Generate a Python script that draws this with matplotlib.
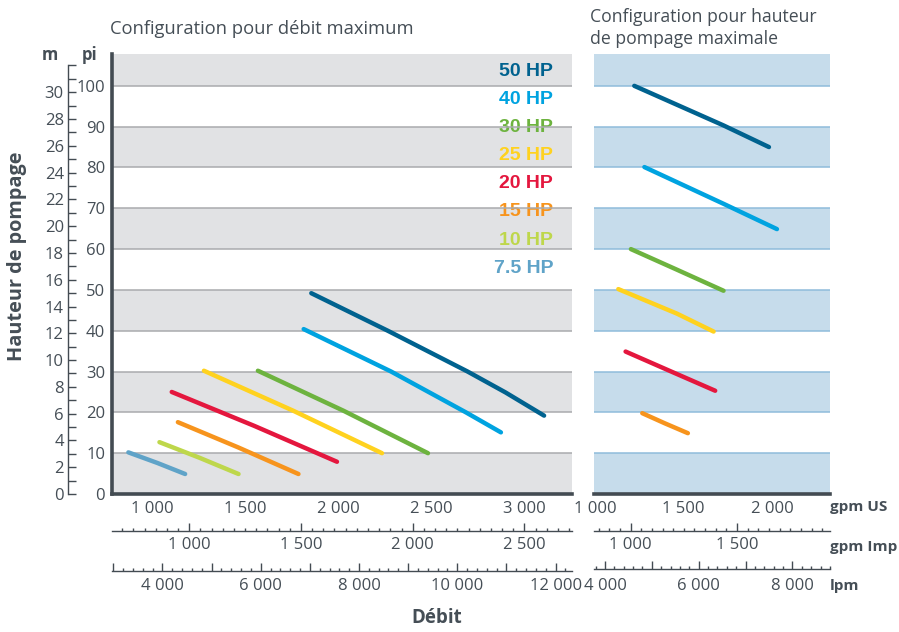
import matplotlib
matplotlib.use('Agg')
import matplotlib.pyplot as plt
from matplotlib.ticker import MultipleLocator, FixedLocator

plt.rcParams['font.family'] = ['Open Sans', 'DejaVu Sans']

# --- donnees (gpm US, pieds) ---
puissances = ['50 HP', '40 HP', '30 HP', '25 HP', '20 HP', '15 HP', '10 HP', '7.5 HP']
couleurs = ['#00628f', '#00a3e0', '#6db33f', '#ffd21f', '#e4173e', '#f7941d', '#bed74b', '#5fa3c8']

# configuration debit maximum
debit_max_x = [
    [1857, 2268, 2697, 2900, 3108],
    [1816, 2286, 2688, 2876],
    [1570, 2030, 2484],
    [1280, 1760, 2237],
    [1107, 1550, 1995],
    [1140, 1465, 1788],
    [1041, 1255, 1466],
    [874, 1030, 1179],
]
debit_max_y = [
    [49.2, 40.0, 30.0, 24.9, 19.2],
    [40.4, 30.0, 20.0, 15.1],
    [30.2, 20.4, 10.0],
    [30.2, 20.4, 10.0],
    [25.0, 16.7, 7.9],
    [17.6, 11.4, 4.9],
    [12.7, 8.9, 4.9],
    [10.2, 7.6, 4.9],
]

# configuration hauteur maximale (pas de 10 HP ni 7.5 HP)
hauteur_max_x = [
    [1222, 1725, 1981],
    [1279, 1725, 2026],
    [1203, 1460, 1725],
    [1132, 1462, 1669],
    [1173, 1425, 1678],
    [1267, 1395, 1524],
]
hauteur_max_y = [
    [100.0, 90.3, 85.0],
    [80.1, 71.1, 64.9],
    [60.0, 55.0, 49.8],
    [50.2, 44.2, 39.8],
    [34.9, 30.1, 25.3],
    [19.8, 17.3, 14.9],
]

gpm_us_gauche = [1000, 1500, 2000, 2500, 3000]
gpm_us_droite = [1000, 1500, 2000]
gpm_imp_gauche = [1000, 1500, 2000, 2500]
gpm_imp_droite = [1000, 1500]
lpm_ticks = [3000, 4000, 5000, 6000, 7000, 8000, 9000, 10000, 11000, 12000]
lpm_labels_gauche = [4000, 6000, 8000, 10000, 12000]
lpm_labels_droite = [4000, 6000, 8000]
pi_ticks = [0, 10, 20, 30, 40, 50, 60, 70, 80, 90, 100]
m_ticks = [0, 2, 4, 6, 8, 10, 12, 14, 16, 18, 20, 22, 24, 26, 28, 30]


def fmt(v):
    return f'{v:,}'.replace(',', ' ')


def us2imp(x):
    return x / 1.20095


def us2lpm(x):
    return x * 3.78541


def ft2m(y):
    return y * 0.3048


TXT = '#454e56'
SPINE = '#434b52'
FS = 12

fig = plt.figure(figsize=(8.99, 6.32), dpi=100)
W, H = 899, 632
bas = (H - 494) / H
haut = 440 / H
axL = fig.add_axes([112 / W, bas, 460 / W, haut])
axR = fig.add_axes([594 / W, bas, 236 / W, haut])

YMAX = 107.8
XL = (786, 3258)
XR = (995, 2325)
axL.set_xlim(*XL)
axR.set_xlim(*XR)

for ax, bande, ligne in [(axL, '#e1e2e4', '#a9abae'), (axR, '#c6dceb', '#8fbcdb')]:
    ax.set_ylim(0, YMAX)
    for y0 in range(0, 110, 20):
        ax.axhspan(y0, y0 + 10, color=bande, lw=0, zorder=0.5)
    for y0 in range(10, 110, 10):
        ax.axhline(y0, color=ligne, lw=1.1, zorder=2)
    for s in ['top', 'right']:
        ax.spines[s].set_visible(False)
    ax.spines['bottom'].set_linewidth(2.6)
    ax.spines['bottom'].set_color(SPINE)
    ax.spines['bottom'].set_zorder(5)
    ax.tick_params(axis='x', length=0, pad=5, labelsize=FS, labelcolor=TXT)

axL.spines['left'].set_linewidth(2.6)
axL.spines['left'].set_color(SPINE)
axL.spines['left'].set_zorder(5)
axR.spines['left'].set_visible(False)
axR.set_yticks([])

for xs, ys, c in zip(debit_max_x, debit_max_y, couleurs):
    axL.plot(xs, ys, color=c, lw=3.2, solid_capstyle='round', solid_joinstyle='round', zorder=3)
for xs, ys, c in zip(hauteur_max_x, hauteur_max_y, couleurs):
    axR.plot(xs, ys, color=c, lw=3.2, solid_capstyle='round', solid_joinstyle='round', zorder=3)

# axe des pieds
axL.set_yticks(pi_ticks)
axL.set_yticklabels([str(v) for v in pi_ticks])
axL.tick_params(axis='y', length=0, pad=5, labelsize=FS, labelcolor=TXT)

# axes gpm US
axL.set_xticks(gpm_us_gauche)
axL.set_xticklabels([fmt(v) for v in gpm_us_gauche])
axR.set_xticks(gpm_us_droite)
axR.set_xticklabels([fmt(v) for v in gpm_us_droite])


def axe_echelle(x0, larg, y_px, lim, majeurs, etiquettes, pas_mineur, pad):
    a = fig.add_axes([x0 / W, (H - y_px) / H, larg / W, 1e-5])
    a.patch.set_visible(False)
    for s in ['top', 'right', 'left']:
        a.spines[s].set_visible(False)
    a.spines['bottom'].set_color(SPINE)
    a.spines['bottom'].set_linewidth(1)
    a.set_xlim(*lim)
    a.set_yticks([])
    a.xaxis.set_major_locator(FixedLocator(majeurs))
    a.set_xticklabels([fmt(v) if v in etiquettes else '' for v in majeurs])
    a.xaxis.set_minor_locator(MultipleLocator(pas_mineur))
    a.tick_params(axis='x', which='major', direction='in', length=6, width=1, color=SPINE,
                  pad=pad, labelsize=FS, labelcolor=TXT)
    a.tick_params(axis='x', which='minor', direction='in', length=2.5, width=1, color=SPINE)
    return a


# axes gpm Imp et lpm
axe_echelle(112, 460, 531, (us2imp(XL[0]), us2imp(XL[1])), gpm_imp_gauche, gpm_imp_gauche, 50, 4.5)
axe_echelle(594, 236, 531, (us2imp(XR[0]), us2imp(XR[1])), gpm_imp_droite, gpm_imp_droite, 50, 4.5)
axe_echelle(112, 460, 570.5, (us2lpm(XL[0]), us2lpm(XL[1])), lpm_ticks, lpm_labels_gauche, 200, 5.5)
axe_echelle(594, 236, 568.5, (us2lpm(XR[0]), us2lpm(XR[1])), lpm_ticks, lpm_labels_droite, 200, 6.5)

# axe des metres
axM = fig.add_axes([68 / W, bas, 1e-5, haut])
axM.patch.set_visible(False)
for s in ['top', 'right', 'bottom']:
    axM.spines[s].set_visible(False)
axM.set_xticks([])
axM.set_ylim(0, ft2m(YMAX))
axM.set_yticks(m_ticks)
axM.set_yticklabels([str(v) for v in m_ticks])
axM.yaxis.set_minor_locator(MultipleLocator(1))
axM.tick_params(axis='y', which='both', direction='in', length=5.5, width=1, color=SPINE,
                pad=3, labelsize=FS, labelcolor=TXT)
axM.spines['left'].set_color(SPINE)
axM.spines['left'].set_linewidth(1)
axM.spines['left'].set_bounds(0, 32)

# legende
for i, (p, c) in enumerate(zip(puissances, couleurs)):
    y = 71 + i * 28.2
    axL.text((553 - 112) / 460, (494 - y) / 440, p, transform=axL.transAxes,
             ha='right', va='center', color=c, fontsize=14, fontweight='bold',
             family=['Liberation Sans', 'DejaVu Sans'], zorder=1.5)

# textes
fig.text(110 / W, 1 - 29 / H, 'Configuration pour débit maximum', ha='left', va='center',
         fontsize=13.2, color=TXT)
fig.text(590 / W, 1 - 28 / H, 'Configuration pour hauteur\nde pompage maximale', ha='left',
         va='center', fontsize=12.7, color=TXT, linespacing=1.3)
fig.text(17 / W, 1 - 256 / H, 'Hauteur de pompage', rotation=90, ha='center', va='center',
         fontsize=14.3, fontweight='bold', color=TXT)
fig.text(437 / W, 1 - 618 / H, 'Débit', ha='center', va='center', fontsize=13.5,
         fontweight='bold', color=TXT)
fig.text(50 / W, 1 - 55 / H, 'm', ha='center', va='center', fontsize=12, fontweight='bold', color=TXT)
fig.text(90 / W, 1 - 55 / H, 'pi', ha='center', va='center', fontsize=12, fontweight='bold', color=TXT)
fig.text(830 / W, 1 - 507 / H, 'gpm US', ha='left', va='center', fontsize=11, fontweight='bold', color=TXT)
fig.text(830 / W, 1 - 547 / H, 'gpm Imp', ha='left', va='center', fontsize=11, fontweight='bold', color=TXT)
fig.text(830 / W, 1 - 586 / H, 'lpm', ha='left', va='center', fontsize=11, fontweight='bold', color=TXT)

fig.savefig('out.png', dpi=100)
